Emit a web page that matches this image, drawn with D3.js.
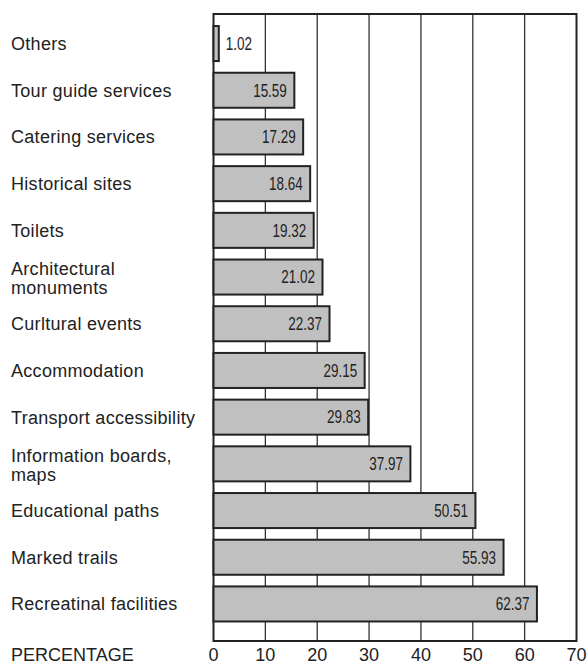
<!DOCTYPE html>
<html><head><meta charset="utf-8">
<script src="https://cdn.jsdelivr.net/npm/d3@7"></script>
<style>body{margin:0;background:#fff;} svg{display:block;}</style>
</head><body>
<svg id="c" width="588" height="664"></svg>
<script>
const categories = [
  ["Others"],
  ["Tour guide services"],
  ["Catering services"],
  ["Historical sites"],
  ["Toilets"],
  ["Architectural", "monuments"],
  ["Curltural events"],
  ["Accommodation"],
  ["Transport accessibility"],
  ["Information boards,", "maps"],
  ["Educational paths"],
  ["Marked trails"],
  ["Recreatinal facilities"]
];
const values = [1.02, 15.59, 17.29, 18.64, 19.32, 21.02, 22.37, 29.15, 29.83, 37.97, 50.51, 55.93, 62.37];
const xTicks = [0, 10, 20, 30, 40, 50, 60, 70];
const axisTitle = "PERCENTAGE";

(function () {
const svg = d3.select("#c");
const font = "Arial, 'Liberation Sans', sans-serif";
const pLeft = 213.5, pRight = 576.5, pTop = 14, pBottom = 641;
const x = d3.scaleLinear().domain([0, 70]).range([pLeft, pRight]);
const ids = categories.map((d, i) => i);
const y = d3.scaleBand().domain(ids).range([20.2, 627.3]).paddingInner(0.25).paddingOuter(0.125);

// grid lines
svg.append("g").selectAll("line").data(xTicks.slice(1, -1)).join("line")
  .attr("x1", d => x(d)).attr("x2", d => x(d))
  .attr("y1", pTop).attr("y2", pBottom)
  .attr("stroke", "#333").attr("stroke-width", 1.3);

// frame
svg.append("rect").attr("x", pLeft).attr("y", pTop)
  .attr("width", pRight - pLeft).attr("height", pBottom - pTop)
  .attr("fill", "none").attr("stroke", "#222").attr("stroke-width", 2);

// bars
svg.append("g").selectAll("rect").data(values).join("rect")
  .attr("x", x(0)).attr("y", (d, i) => y(i))
  .attr("width", d => x(d) - x(0)).attr("height", y.bandwidth())
  .attr("fill", "#c0c0c0").attr("stroke", "#222").attr("stroke-width", 2);

// value labels (condensed)
svg.append("g").selectAll("text").data(values).join("text")
  .attr("transform", (d, i) => `translate(${d < 5 ? x(d) + 7 : x(d) - 7.5},${y(i) + y.bandwidth() / 2}) scale(0.77,1)`)
  .attr("dy", "0.36em")
  .attr("text-anchor", d => d < 5 ? "start" : "end")
  .attr("font-family", font)
  .attr("font-size", 17.5).attr("fill", "#222")
  .text(d => d.toFixed(2));

// category labels
const lab = svg.append("g").selectAll("text").data(categories).join("text")
  .attr("x", 11)
  .attr("y", (d, i) => y(i) + y.bandwidth() / 2)
  .attr("font-family", font).attr("font-size", 18).attr("letter-spacing", 0.3).attr("fill", "#222");
lab.each(function(d) {
  const t = d3.select(this);
  d.forEach((line, j) => {
    t.append("tspan").attr("x", 11)
      .attr("dy", j === 0 ? (d.length === 1 ? "0.36em" : "-0.12em") : "1.06em")
      .text(line);
  });
});

// x axis tick labels
svg.append("g").selectAll("text").data(xTicks).join("text")
  .attr("x", d => x(d)).attr("y", 661)
  .attr("text-anchor", "middle")
  .attr("font-family", font).attr("font-size", 18).attr("fill", "#222")
  .text(d => d);

svg.append("text").attr("x", 11).attr("y", 661)
  .attr("font-family", font).attr("font-size", 18).attr("fill", "#222")
  .text(axisTitle);
})();
</script>
</body></html>
